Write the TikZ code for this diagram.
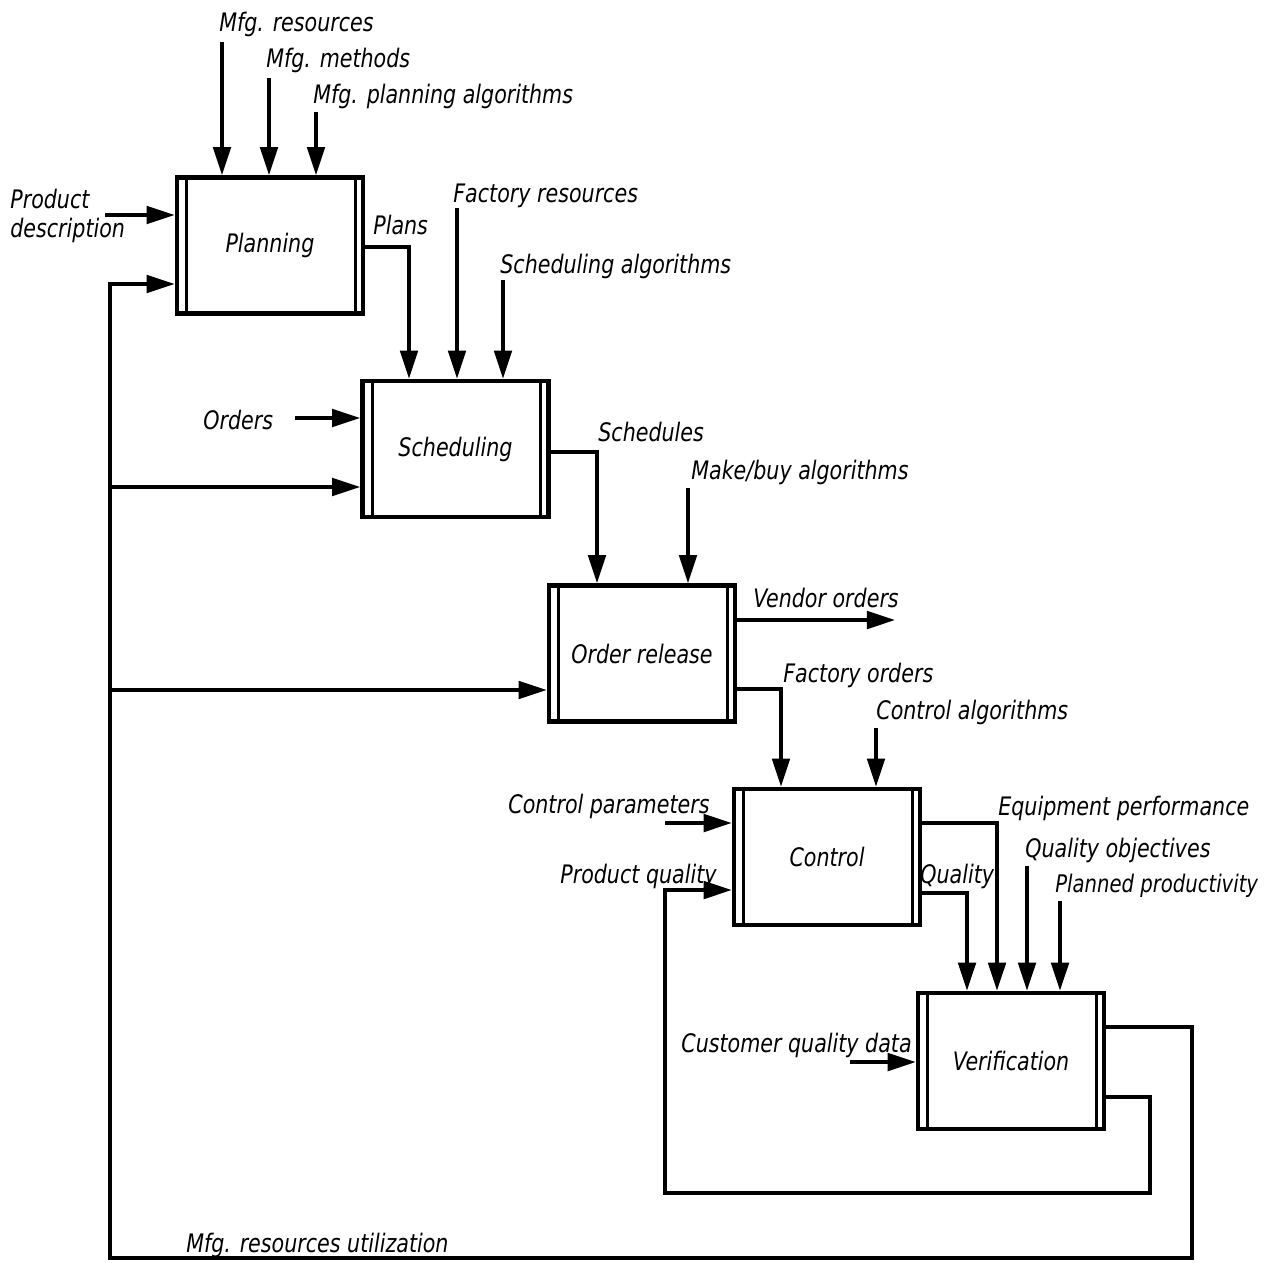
\documentclass[tikz,border=0pt]{standalone}
\usepackage{fontspec}
\setmainfont{DejaVu Sans Condensed}[FakeStretch=0.9]
\usetikzlibrary{arrows.meta}
\tikzset{
  box/.style={draw, line width=2.6pt, minimum width=3.72cm, minimum height=2.72cm, inner sep=0pt,
    font=\itshape\fontsize{14.5}{17}\selectfont},
  innerln/.style={line width=1.7pt},
  lbl/.style={anchor=west, inner sep=0pt, font=\itshape\fontsize{14.5}{17}\selectfont},
  conn/.style={line width=1.9pt},
  arr/.style={conn, -{Triangle[length=16pt,width=10pt]}}
}
\begin{document}
\begin{tikzpicture}[x=0.02cm,y=-0.02cm]
\path[use as bounding box] (0,0) rectangle (1270,1262);
% boxes
\node[box] (plan)  at (270,245.5) {Planning};
\node[box] (sched) at (455.5,449) {Scheduling};
\node[box] (orel)  at (642,653.5) {Order release};
\node[box] (ctrl)  at (827,857)   {Control};
\node[box] (verif) at (1011,1061) {Verification};
\foreach \b in {plan,sched,orel,ctrl,verif}{
  \draw[innerln] ([xshift=0.24cm]\b.north west) -- ([xshift=0.24cm]\b.south west);
  \draw[innerln] ([xshift=-0.2cm]\b.north east) -- ([xshift=-0.2cm]\b.south east);
}
% labels
\node[lbl] (tmr)  at (219,24)  {Mfg. resources};
\node[lbl] (tmm)  at (266,60)  {Mfg. methods};
\node[lbl] (tmpa) at (313,96)  {Mfg. planning algorithms};
\node[lbl, align=left] (tpd) at (10,216) {Product\\description};
\node[lbl] (tpl)  at (373,225) {Plans};
\node[lbl] (tfr)  at (453,196) {Factory resources};
\node[lbl] (tsa)  at (500,266) {Scheduling algorithms};
\node[lbl] (tord) at (203,420) {Orders};
\node[lbl] (tsch) at (598,432) {Schedules};
\node[lbl] (tmb)  at (691,472) {Make/buy algorithms};
\node[lbl] (tvo)  at (753,598) {Vendor orders};
\node[lbl] (tfo)  at (783,675) {Factory orders};
\node[lbl] (tca)  at (876,712) {Control algorithms};
\node[lbl] (tcp)  at (508,806) {Control parameters};
\node[lbl] (tpq)  at (560,876) {Product quality};
\node[lbl] (tq)   at (920,876) {Quality};
\node[lbl] (tep)  at (998,808) {Equipment performance};
\node[lbl] (tqo)  at (1025,850) {Quality objectives};
\node[lbl, font=\itshape\fontsize{13.8}{17}\selectfont] (tpp) at (1055,886) {Planned productivity};
\node[lbl] (tcq)  at (681,1045) {Customer quality data};
\node[lbl] (tmu)  at (186,1245) {Mfg. resources utilization};
% planning inputs
\coordinate (mr) at (222,42);
\coordinate (mm) at (269,78);
\coordinate (mp) at (316,112);
\draw[arr] (mr) -- (mr |- plan.north);
\draw[arr] (mm) -- (mm |- plan.north);
\draw[arr] (mp) -- (mp |- plan.north);
\coordinate (pd) at (105,215);
\draw[arr] (pd) -- (plan.west |- pd);
% planning -> scheduling
\coordinate (p1) at (409,247);
\draw[arr] (plan.east |- p1) -- (p1) -- (sched.north -| p1);
\coordinate (fr) at (457,208);
\coordinate (sa) at (503,280);
\draw[arr] (fr) -- (fr |- sched.north);
\draw[arr] (sa) -- (sa |- sched.north);
\coordinate (od) at (295,418);
\draw[arr] (od) -- (sched.west |- od);
% scheduling -> order release
\coordinate (s1) at (597,452);
\draw[arr] (sched.east |- s1) -- (s1) -- (orel.north -| s1);
\coordinate (mb) at (688,488);
\draw[arr] (mb) -- (mb |- orel.north);
% order release outputs
\coordinate (vo) at (895,620);
\draw[arr] (orel.east |- vo) -- (vo);
\coordinate (o1) at (781,689);
\draw[arr] (orel.east |- o1) -- (o1) -- (ctrl.north -| o1);
\coordinate (ca) at (876,728);
\draw[arr] (ca) -- (ca |- ctrl.north);
\coordinate (cp) at (665,823);
\draw[arr] (cp) -- (ctrl.west |- cp);
% control outputs
\coordinate (c1) at (997,823);
\draw[arr] (ctrl.east |- c1) -- (c1) -- (verif.north -| c1);
\coordinate (c2) at (967,893);
\draw[arr] (ctrl.east |- c2) -- (c2) -- (verif.north -| c2);
\coordinate (qo) at (1027,866);
\coordinate (pp) at (1060,901);
\draw[arr] (qo) -- (qo |- verif.north);
\draw[arr] (pp) -- (pp |- verif.north);
\coordinate (cq) at (850,1062);
\draw[arr] (cq) -- (verif.west |- cq);
% product quality loop
\coordinate (qA) at (1150,1097);
\coordinate (qB) at (1150,1193);
\coordinate (qC) at (665,1193);
\coordinate (qD) at (665,890);
\draw[arr] (verif.east |- qA) -- (qA) -- (qB) -- (qC) -- (qD) -- (ctrl.west |- qD);
% resources utilization loop
\coordinate (fbA) at (1192,1027);
\coordinate (fbB) at (1192,1258);
\coordinate (fbC) at (110,1258);
\coordinate (fbD) at (110,284);
\draw[arr] (verif.east |- fbA) -- (fbA) -- (fbB) -- (fbC) -- (fbD) -- (plan.west |- fbD);
\coordinate (br1) at (110,487);
\draw[arr] (br1) -- (sched.west |- br1);
\coordinate (br2) at (110,690);
\draw[arr] (br2) -- (orel.west |- br2);
\end{tikzpicture}
\end{document}
